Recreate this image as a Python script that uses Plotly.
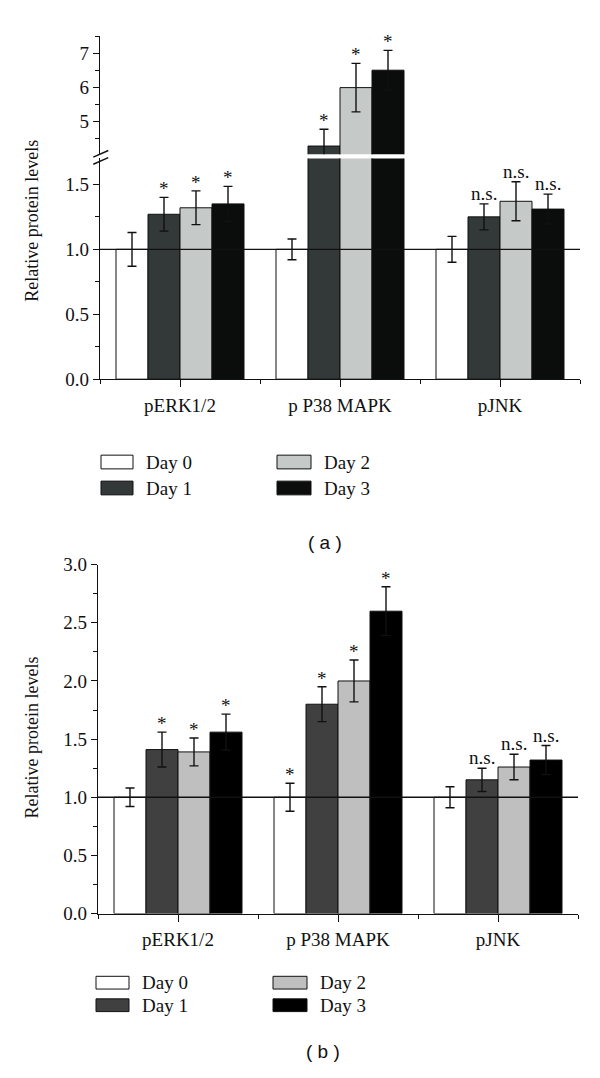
import plotly.graph_objects as go

# ---------------- data ----------------
categories = ["pERK1/2", "p P38 MAPK", "pJNK"]
days = ["Day 0", "Day 1", "Day 2", "Day 3"]

# panel (a)
a_day0 = [1.00, 1.00, 1.00]
a_day1 = [1.27, 4.29, 1.25]
a_day2 = [1.32, 6.00, 1.37]
a_day3 = [1.35, 6.51, 1.31]
a_err0 = [0.13, 0.08, 0.10]
a_err1 = [0.13, 0.49, 0.10]
a_err2 = [0.13, 0.71, 0.15]
a_err3 = [0.135, 0.58, 0.115]
a_sig0 = ["", "", ""]
a_sig1 = ["*", "*", "n.s."]
a_sig2 = ["*", "*", "n.s."]
a_sig3 = ["*", "*", "n.s."]

# panel (b)
b_day0 = [1.00, 1.00, 1.00]
b_day1 = [1.41, 1.80, 1.15]
b_day2 = [1.39, 2.00, 1.26]
b_day3 = [1.56, 2.60, 1.32]
b_err0 = [0.08, 0.12, 0.09]
b_err1 = [0.15, 0.15, 0.10]
b_err2 = [0.12, 0.18, 0.11]
b_err3 = [0.155, 0.21, 0.125]
b_sig0 = ["", "*", ""]
b_sig1 = ["*", "*", "n.s."]
b_sig2 = ["*", "*", "n.s."]
b_sig3 = ["*", "*", "n.s."]

a_lower_ticks = [0.0, 0.5, 1.0, 1.5]
a_upper_ticks = [5, 6, 7]
b_ticks = [0.0, 0.5, 1.0, 1.5, 2.0, 2.5, 3.0]

# ---------------- style ----------------
W, H = 600, 1078
SERIF = "Liberation Serif, Times New Roman, serif"
SANS = "Liberation Sans, Arial, sans-serif"
FS = 19
colors_a = ["#ffffff", "#333939", "#c5cac9", "#0b0d0d"]
colors_b = ["#ffffff", "#404040", "#bfbfbf", "#000000"]
BARGAP = 0.2
xpos = list(range(len(categories)))


def X(px):
    return px / W


def Y(py):
    return 1 - py / H


a_vals = [a_day0, a_day1, a_day2, a_day3]
a_errs = [a_err0, a_err1, a_err2, a_err3]
a_sigs = [a_sig0, a_sig1, a_sig2, a_sig3]
b_vals = [b_day0, b_day1, b_day2, b_day3]
b_errs = [b_err0, b_err1, b_err2, b_err3]
b_sigs = [b_sig0, b_sig1, b_sig2, b_sig3]

A_LOW_MAX = 1.7
A_UP_RANGE = [4.05, 7.5]

fig = go.Figure()


def add_bars(vals, errs, cols, xa, ya):
    for d in range(len(days)):
        fig.add_trace(go.Bar(
            x=xpos, y=vals[d], name=days[d], xaxis=xa, yaxis=ya,
            marker=dict(color=cols[d], line=dict(color="#111111", width=1)),
            error_y=dict(type="data", array=errs[d], visible=True,
                         color="#111111", thickness=1.4, width=4.5),
            showlegend=False,
        ))


add_bars(a_vals, a_errs, colors_a, "x", "y")      # (a) lower segment
add_bars(a_vals, a_errs, colors_a, "x2", "y2")    # (a) upper segment
add_bars(b_vals, b_errs, colors_b, "x3", "y3")    # (b)

# significance labels
annotations = []
ngroup = len(days)
bw = (1 - BARGAP) / ngroup


def sig_annots(vals, errs, sigs, xref, yref_fn):
    for d in range(ngroup):
        for i in range(len(categories)):
            s = sigs[d][i]
            if not s:
                continue
            top = vals[d][i] + errs[d][i]
            annotations.append(dict(
                x=xpos[i] + (d - (ngroup - 1) / 2) * bw, y=top,
                xref=xref, yref=yref_fn(top), text=s, showarrow=False,
                xanchor="center", yanchor="bottom",
                yshift=-4 if s == "*" else -2,
                font=dict(family=SERIF, size=FS, color="#111111")))


sig_annots(a_vals, a_errs, a_sigs, "x", lambda t: "y" if t < A_LOW_MAX else "y2")
sig_annots(b_vals, b_errs, b_sigs, "x3", lambda t: "y3")

# ---------------- axes ----------------
axis_common = dict(showgrid=False, zeroline=False, showline=True,
                   linecolor="#111111", linewidth=1.3, ticks="outside",
                   tickcolor="#111111", tickwidth=1.3,
                   tickfont=dict(family=SERIF, size=FS, color="#111111"))

xa_dom = [X(100), X(580)]
xb_dom = [X(98), X(578)]
xr = [-0.5, len(categories) - 0.5]
minor_x = [i - 0.5 for i in range(len(categories) + 1)]

fig.update_layout(
    width=W, height=H, margin=dict(l=0, r=0, t=0, b=0),
    paper_bgcolor="white", plot_bgcolor="white",
    barmode="group", bargap=BARGAP, bargroupgap=0,
    xaxis=dict(**axis_common, domain=xa_dom, range=xr, anchor="y",
               tickvals=xpos, ticktext=categories, ticklen=7,
               ticklabelstandoff=2,
               minor=dict(ticks="outside", tickvals=minor_x, ticklen=4,
                          tickcolor="#111111", tickwidth=1.3)),
    yaxis=dict(**axis_common, domain=[Y(376.5), Y(151.4)], range=[0, A_LOW_MAX],
               anchor="x", tickvals=a_lower_ticks, tickformat=".1f", ticklen=6,
               minor=dict(ticks="outside", dtick=0.25, tick0=0, ticklen=3.5,
                          tickcolor="#111111", tickwidth=1.3)),
    xaxis2=dict(domain=xa_dom, range=xr, anchor="y2", visible=False),
    yaxis2=dict(**axis_common, domain=[Y(147.1), Y(26.9)], range=A_UP_RANGE,
                anchor="x2", tickvals=a_upper_ticks, ticklen=6,
                minor=dict(ticks="outside", tickvals=[4.5, 5.5, 6.5, 7.5],
                           ticklen=3.5, tickcolor="#111111", tickwidth=1.3)),
    xaxis3=dict(**axis_common, domain=xb_dom, range=xr, anchor="y3",
                tickvals=xpos, ticktext=categories, ticklen=7,
                ticklabelstandoff=2,
                minor=dict(ticks="outside", tickvals=minor_x, ticklen=4,
                           tickcolor="#111111", tickwidth=1.3)),
    yaxis3=dict(**axis_common, domain=[Y(921.5), Y(565.7)], range=[0, 3.0],
                anchor="x3", tickvals=b_ticks, tickformat=".1f", ticklen=6,
                minor=dict(ticks="outside", dtick=0.25, tick0=0, ticklen=3.5,
                           tickcolor="#111111", tickwidth=1.3)),
)

shapes = []
# reference lines at 1.0
for xr_, yr_ in (("x domain", "y"), ("x3 domain", "y3")):
    shapes.append(dict(type="line", xref=xr_, yref=yr_, x0=0, x1=1, y0=1.0, y1=1.0,
                       line=dict(color="#111111", width=1.3), layer="above"))
# axis break marks
for dy in (0, 7.3):
    shapes.append(dict(type="line", xref="paper", yref="paper",
                       x0=X(93.3), y0=Y(150 + dy), x1=X(108.3), y1=Y(143.3 + dy),
                       line=dict(color="#111111", width=1.4)))


# legends (drawn)
def legend(cols, box_x, lab_x, rows, bh):
    for d in range(ngroup):
        c, r = divmod(d, 2)
        yc = rows[r]
        shapes.append(dict(type="rect", xref="paper", yref="paper",
                           x0=X(box_x[c][0]), x1=X(box_x[c][1]),
                           y0=Y(yc + bh / 2), y1=Y(yc - bh / 2),
                           fillcolor=cols[d], line=dict(color="#111111", width=1)))
        annotations.append(dict(x=X(lab_x[c]), y=Y(yc), xref="paper", yref="paper",
                                text=days[d], showarrow=False, xanchor="left",
                                yanchor="middle",
                                font=dict(family=SERIF, size=FS, color="#111111")))


legend(colors_a, [(101, 133), (277, 311)], [144, 322], [461, 487.5], 14)
legend(colors_b, [(96, 129), (273, 307)], [140, 318], [992, 1015], 13)

# y titles and panel labels
for yc in (215, 742):
    annotations.append(dict(x=X(32), y=Y(yc), xref="paper", yref="paper",
                            text="Relative protein levels", textangle=-90,
                            showarrow=False, xanchor="center", yanchor="middle",
                            font=dict(family=SERIF, size=18, color="#111111")))
for txt, xc, yc in (("( a )", 325, 543), ("( b )", 323, 1062)):
    annotations.append(dict(x=X(xc), y=Y(yc), xref="paper", yref="paper",
                            text=txt, showarrow=False, xanchor="center",
                            yanchor="middle",
                            font=dict(family=SANS, size=19, color="#111111")))

fig.update_layout(shapes=shapes, annotations=annotations)
fig.write_html("out.html",
               config={"displayModeBar": False},
               post_script="document.body.style.margin='0px';"
                           "document.body.style.overflow='hidden';")
